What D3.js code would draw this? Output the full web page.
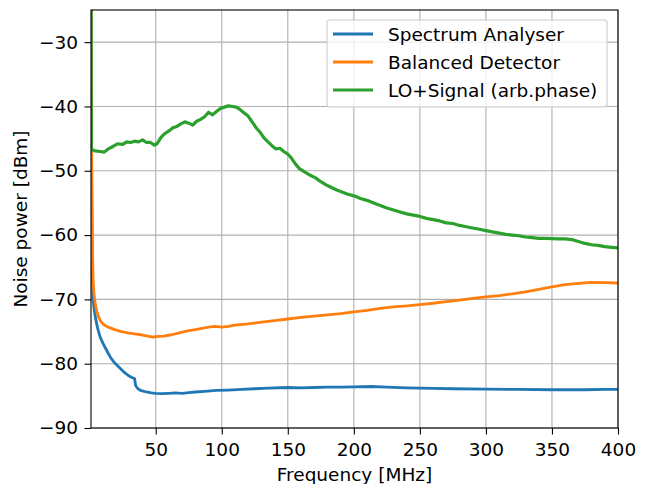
<!DOCTYPE html>
<html>
<head>
<meta charset="utf-8">
<script src="https://cdn.jsdelivr.net/npm/d3@7"></script>
<style>
  body { margin: 0; background: #fff; }
  svg { font-family: "DejaVu Sans", sans-serif; }
</style>
</head>
<body>
<svg id="svg" width="650" height="484"></svg>
<script>
// Data
var seriesNames = ["Spectrum Analyser", "Balanced Detector", "LO+Signal (arb.phase)"]
var seriesColors = ["#1f77b4", "#ff7f0e", "#2ca02c"]

var xTicks = [50, 100, 150, 200, 250, 300, 350, 400]
var yTicks = [-90, -80, -70, -60, -50, -40, -30]

var analyserFreq = [1, 1.5, 2, 2.5, 3.8, 5, 6.3, 8, 10, 12, 13.8, 16, 19, 21.5, 24, 26.5, 29, 31.5, 34, 34.8, 36.5, 39, 43, 46.7,
  50, 55, 60, 65, 70, 75, 80, 87, 96, 105, 115, 125, 135, 150, 160, 170, 180, 190, 200, 213, 225, 240, 250, 260, 275, 300,
  325, 350, 375, 390, 400]
var analyserPower = [-20, -55, -66, -70, -72.1, -73.5, -74.7, -75.9, -76.8, -77.6, -78.3, -79.1, -79.9, -80.4, -80.9, -81.4,
  -81.8, -82.1, -82.3, -83.4, -83.9, -84.2, -84.4, -84.55, -84.6, -84.65, -84.6, -84.55, -84.6, -84.5, -84.4, -84.3, -84.15,
  -84.1, -84.0, -83.9, -83.8, -83.7, -83.75, -83.7, -83.65, -83.65, -83.6, -83.55, -83.65, -83.75, -83.8, -83.85, -83.9,
  -83.95, -84.0, -84.05, -84.05, -84.0, -84.0]

var detectorFreq = [1, 1.6, 2.2, 2.6, 3.2, 3.8, 5, 6.5, 8, 10, 12, 15, 19, 24, 29, 34, 39, 44, 48, 52, 56, 62, 68, 74, 80, 85,
  90, 95, 100, 105, 110, 120, 130, 140, 150, 160, 170, 180, 190, 200, 210, 220, 230, 240, 250, 260, 270, 280, 290, 300, 310,
  320, 330, 340, 350, 360, 370, 380, 390, 400]
var detectorPower = [-20, -50, -63, -67, -69, -70.1, -71.6, -72.6, -73.3, -73.8, -74.1, -74.4, -74.7, -75.0, -75.2, -75.35,
  -75.5, -75.7, -75.85, -75.75, -75.7, -75.5, -75.2, -74.9, -74.7, -74.5, -74.3, -74.2, -74.3, -74.2, -74.0, -73.8, -73.55,
  -73.3, -73.05, -72.8, -72.6, -72.4, -72.2, -71.95, -71.7, -71.4, -71.15, -71.0, -70.8, -70.6, -70.35, -70.1, -69.85, -69.6,
  -69.4, -69.15, -68.85, -68.45, -68.05, -67.7, -67.5, -67.35, -67.4, -67.45]

var signalFreq = [1, 1.3, 4, 8, 11, 14, 17, 21, 25, 28, 31, 34, 37, 40, 43, 46, 49, 51, 54, 57, 60, 63, 66, 69, 72, 75, 78, 81,
  84, 87, 90, 93, 96, 99, 102, 105, 108, 111, 114, 117, 120, 123, 126, 129, 132, 135, 138, 141, 144, 147, 150, 153, 156, 159,
  163, 167, 171, 175, 179, 183, 187, 191, 195, 200, 205, 210, 215, 220, 225, 230, 235, 240, 245, 250, 255, 260, 265, 270, 275,
  280, 285, 290, 295, 300, 305, 310, 315, 320, 325, 330, 335, 340, 345, 350, 355, 360, 365, 370, 375, 380, 385, 390, 395, 400]
var signalPower = [-20, -46.7, -46.9, -47.0, -47.1, -46.6, -46.3, -45.8, -45.9, -45.5, -45.6, -45.4, -45.5, -45.2, -45.6, -45.6,
  -46.0, -45.8, -44.8, -44.2, -43.8, -43.3, -43.1, -42.7, -42.4, -42.6, -42.9, -42.3, -42.0, -41.6, -40.9, -41.3, -40.8, -40.3,
  -40.1, -39.9, -40.0, -40.1, -40.5, -41.0, -41.5, -42.4, -43.3, -44.0, -44.9, -45.5, -46.1, -46.6, -46.5, -47.0, -47.4, -48.1,
  -49.0, -49.7, -50.2, -50.7, -51.1, -51.7, -52.2, -52.6, -53.0, -53.3, -53.6, -53.9, -54.3, -54.6, -55.0, -55.4, -55.8, -56.1,
  -56.4, -56.7, -56.9, -57.1, -57.4, -57.6, -57.8, -58.1, -58.2, -58.5, -58.7, -58.9, -59.1, -59.3, -59.5, -59.7, -59.9, -60.0,
  -60.1, -60.3, -60.4, -60.5, -60.5, -60.55, -60.6, -60.6, -60.7, -61.0, -61.3, -61.5, -61.6, -61.8, -61.9, -62.0]

var svg = d3.select("#svg")

const fontSize = "18.5px"
const margin = { top: 10, right: 32, bottom: 56, left: 91 },
  width = +svg.attr("width") - margin.left - margin.right,
  height = +svg.attr("height") - margin.top - margin.bottom

let x = d3.scaleLinear().domain([1, 400]).range([0, width])
let y = d3.scaleLinear().domain([-90, -25]).range([height, 0])

let g = svg.append("g").attr("transform", "translate(" + margin.left + "," + margin.top + ")")

svg.append("defs").append("clipPath").attr("id", "clip")
  .append("rect").attr("width", width).attr("height", height)

// grid
g.append("g").selectAll("line").data(xTicks).enter().append("line")
  .attr("x1", d => x(d)).attr("x2", d => x(d)).attr("y1", 0).attr("y2", height)
  .attr("stroke", "#b0b0b0").attr("stroke-width", 1.1)
g.append("g").selectAll("line").data(yTicks).enter().append("line")
  .attr("y1", d => y(d)).attr("y2", d => y(d)).attr("x1", 0).attr("x2", width)
  .attr("stroke", "#b0b0b0").attr("stroke-width", 1.1)

// lines
let series = [
  { freq: analyserFreq, power: analyserPower, width: 2.8 },
  { freq: detectorFreq, power: detectorPower, width: 2.8 },
  { freq: signalFreq, power: signalPower, width: 3.2 }
]
let line = d3.line().x(d => x(d[0])).y(d => y(d[1]))
let plot = g.append("g").attr("clip-path", "url(#clip)")
series.forEach((s, i) => {
  plot.append("path")
    .datum(s.freq.map((f, j) => [f, s.power[j]]))
    .attr("fill", "none")
    .attr("stroke", seriesColors[i])
    .attr("stroke-width", s.width)
    .attr("stroke-linejoin", "round")
    .attr("d", line)
})

// axes
let fmt = d => d < 0 ? "\u2212" + Math.abs(d) : "" + d
let xAxis = g.append("g").attr("transform", "translate(0," + height + ")")
  .call(d3.axisBottom(x).tickValues(xTicks).tickFormat(fmt).tickSizeInner(6.5).tickSizeOuter(0).tickPadding(8))
let yAxis = g.append("g")
  .call(d3.axisLeft(y).tickValues(yTicks).tickFormat(fmt).tickSizeInner(6.5).tickSizeOuter(0).tickPadding(6.5))
;[xAxis, yAxis].forEach(a => {
  a.attr("font-size", null).attr("font-family", null)
  a.select(".domain").remove()
  a.selectAll("line").attr("stroke", "#000").attr("stroke-width", 1.1)
  a.selectAll("text").style("font-size", fontSize).attr("fill", "#000")
})

// frame
g.append("rect").attr("width", width).attr("height", height)
  .attr("fill", "none").attr("stroke", "#000").attr("stroke-width", 1.1)

// axis labels
svg.append("text")
  .attr("text-anchor", "middle")
  .attr("x", margin.left + width / 2).attr("y", 481)
  .style("font-size", fontSize)
  .text("Frequency [MHz]")
svg.append("text")
  .attr("text-anchor", "middle")
  .attr("transform", "translate(27," + (margin.top + height / 2) + ")rotate(-90)")
  .style("font-size", fontSize)
  .text("Noise power [dBm]")

// legend
let legend = g.append("g").attr("transform", "translate(" + (327 - margin.left) + "," + (20 - margin.top) + ")")
legend.append("rect")
  .attr("width", 280).attr("height", 87).attr("rx", 3)
  .attr("fill", "#fff").attr("fill-opacity", 0.8)
  .attr("stroke", "#cccccc").attr("stroke-width", 1.1)
let items = legend.selectAll(".item").data(seriesNames).enter().append("g")
  .attr("class", "item")
  .attr("transform", (d, i) => "translate(0," + (14 + i * 28) + ")")
items.append("line")
  .attr("x1", 6).attr("x2", 46)
  .attr("stroke", (d, i) => seriesColors[i]).attr("stroke-width", 2.8)
items.append("text")
  .attr("x", 61).attr("y", 6.5)
  .style("font-size", fontSize)
  .text(d => d)
</script>
</body>
</html>
